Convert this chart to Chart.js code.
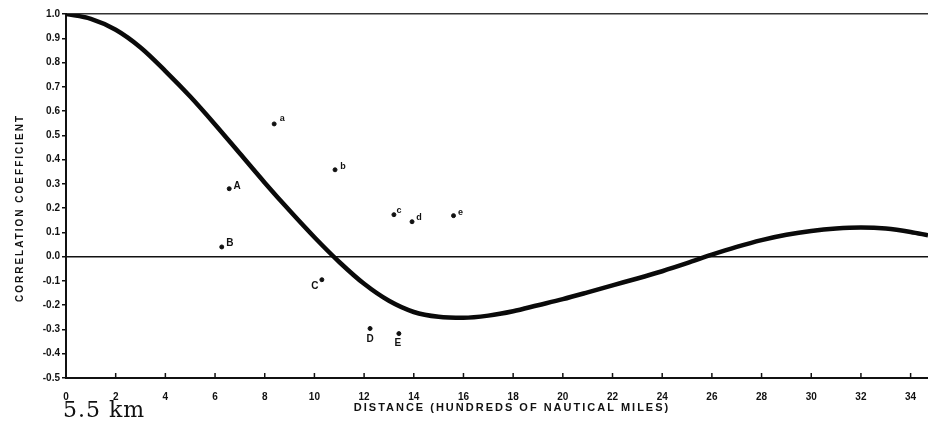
<!DOCTYPE html>
<html>
<head>
<meta charset="utf-8">
<script src="https://cdn.jsdelivr.net/npm/chart.js@4.4.0/dist/chart.umd.min.js"></script>
<style>
  html, body { margin: 0; padding: 0; background: #fff; }
  #wrap { position: relative; width: 928px; height: 426px; }
  #nota { position: absolute; left: 63px; top: 397px; font-family: "DejaVu Serif", serif; font-size: 22px; letter-spacing: 1px; color: #111; }
</style>
</head>
<body>
<div id="wrap">
  <canvas id="grafico" width="928" height="426"></canvas>
  <div id="nota">5.5 km</div>
</div>
<script>
// curva ajustada
const curvaX = [0, 1, 2, 3, 4, 5, 6, 7, 8, 9, 10, 11, 12, 13, 14, 15, 16, 17, 18, 19, 20, 21, 22, 23, 24, 25, 26, 27, 28, 29, 30, 31, 32, 33, 34, 34.7];
const curvaY = [1.0, 0.98, 0.935, 0.862, 0.765, 0.66, 0.545, 0.425, 0.305, 0.19, 0.08, -0.022, -0.112, -0.182, -0.228, -0.248, -0.252, -0.243, -0.225, -0.2, -0.175, -0.147, -0.118, -0.09, -0.06, -0.027, 0.008, 0.04, 0.068, 0.09, 0.106, 0.116, 0.12, 0.116, 0.102, 0.088];

// puntos sueltos con letra
const puntosX = [6.57, 6.27, 8.38, 10.83, 13.2, 13.93, 15.6, 10.3, 12.24, 13.4];
const puntosY = [0.28, 0.04, 0.547, 0.358, 0.173, 0.144, 0.169, -0.095, -0.296, -0.317];
const letras = ["A", "B", "a", "b", "c", "d", "e", "C", "D", "E"];

const ticksX = [0, 2, 4, 6, 8, 10, 12, 14, 16, 18, 20, 22, 24, 26, 28, 30, 32, 34];
const yMin = -0.5, yMax = 1.0, xMax = 34.7;

const tituloX = "DISTANCE (HUNDREDS OF NAUTICAL MILES)";
const tituloY = "CORRELATION COEFFICIENT";

// desplazamiento de cada letra respecto a su punto (px)
const offsetLetra = {
  A: [8, -2], B: [8, -4], a: [8, -5], b: [8, -3], c: [5, -4],
  d: [7, -4], e: [7, -3], C: [-7, 7], D: [0, 11], E: [-1, 10]
};

const extras = {
  id: "extras",
  afterDraw(chart) {
    const ctx = chart.ctx;
    const area = chart.chartArea;
    const sx = chart.scales.x;

    // marcas del eje x hacia adentro
    ctx.save();
    ctx.strokeStyle = "#111";
    ctx.lineWidth = 1.5;
    ticksX.forEach(v => {
      const px = sx.getPixelForValue(v);
      ctx.beginPath();
      ctx.moveTo(px, area.bottom);
      ctx.lineTo(px, area.bottom - 5);
      ctx.stroke();
    });
    ctx.restore();

    // letras de los puntos
    const meta = chart.getDatasetMeta(1);
    ctx.save();
    ctx.fillStyle = "#111";
    ctx.textAlign = "center";
    ctx.textBaseline = "middle";
    meta.data.forEach((el, i) => {
      const l = letras[i];
      const off = offsetLetra[l] || [7, -3];
      ctx.font = (l === l.toUpperCase() ? "bold 10px" : "bold 9px") + ' "Liberation Sans", sans-serif';
      ctx.fillText(l, el.x + off[0], el.y + off[1]);
    });
    ctx.restore();

    // titulos de los ejes
    ctx.save();
    ctx.fillStyle = "#111";
    ctx.textAlign = "center";
    ctx.textBaseline = "middle";
    ctx.letterSpacing = "2px";
    ctx.font = 'bold 11px "Liberation Sans", sans-serif';
    ctx.fillText(tituloX, 512, 408);
    ctx.font = 'bold 10px "Liberation Sans", sans-serif';
    ctx.translate(20, 208);
    ctx.rotate(-Math.PI / 2);
    ctx.fillText(tituloY, 0, 0);
    ctx.restore();
  }
};

function generarGrafico() {
  const ctx = document.getElementById("grafico").getContext("2d");

  new Chart(ctx, {
    type: "scatter",
    data: {
      datasets: [
        {
          type: "line",
          data: curvaX.map((x, i) => ({ x: x, y: curvaY[i] })),
          borderColor: "#0a0a0a",
          borderWidth: 4.5,
          pointRadius: 0,
          cubicInterpolationMode: "monotone",
          fill: false
        },
        {
          data: puntosX.map((x, i) => ({ x: x, y: puntosY[i] })),
          backgroundColor: "#111",
          borderColor: "#111",
          pointRadius: 2
        }
      ]
    },
    options: {
      responsive: false,
      devicePixelRatio: 1,
      animation: false,
      layout: { autoPadding: false, padding: { top: 14, right: 0, bottom: 0, left: 0 } },
      plugins: {
        legend: { display: false },
        tooltip: { enabled: false }
      },
      scales: {
        x: {
          type: "linear",
          min: 0,
          max: xMax,
          afterFit: s => { s.height = 48; },
          ticks: {
            stepSize: 2,
            includeBounds: false,
            padding: 5,
            color: "#111",
            font: { family: "Liberation Sans", size: 10, weight: "bold" }
          },
          grid: { display: false },
          border: { color: "#111", width: 2 }
        },
        y: {
          min: yMin,
          max: yMax,
          afterFit: s => { s.width = 66; },
          ticks: {
            stepSize: 0.1,
            padding: 2,
            color: "#111",
            font: { family: "Liberation Sans", size: 10, weight: "bold" },
            callback: v => (Math.abs(v) < 1e-9 ? 0 : v).toFixed(1)
          },
          grid: {
            tickLength: 4,
            tickColor: "#111",
            color: c => {
              const v = c.tick ? c.tick.value : null;
              if (v !== null && Math.abs(v) < 1e-9) return "#111";
              if (v !== null && Math.abs(v - 1) < 1e-9) return "#333";
              return "rgba(0,0,0,0)";
            },
            lineWidth: 1.5
          },
          border: { color: "#111", width: 2 }
        }
      }
    },
    plugins: [extras]
  });
}

generarGrafico();
</script>
</body>
</html>
